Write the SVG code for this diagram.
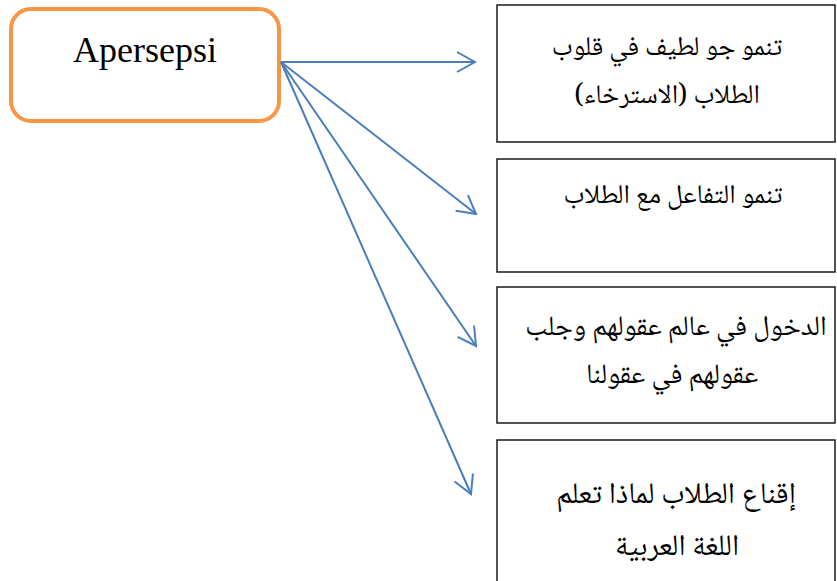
<svg xmlns="http://www.w3.org/2000/svg" width="837" height="581" viewBox="0 0 837 581">
<style>
.box{fill:#fff;stroke:#1a1a1a;stroke-width:1.5}
.ar{font-family:"Noto Naskh Arabic","Noto Sans Arabic","DejaVu Sans",serif;font-size:27px;fill:#000;text-anchor:middle;direction:rtl}
.mid{font-size:28px}
.big{font-size:30px}
.conn{fill:none;stroke:#4a7ebb;stroke-width:2}
</style>
<defs>
<marker id="arr" viewBox="-22 -12 24 24" markerWidth="24" markerHeight="24" refX="0" refY="0" orient="auto" markerUnits="userSpaceOnUse">
<path d="M-18,-10 L0,0 L-18,10" fill="none" stroke="#4a7ebb" stroke-width="2"/>
</marker>
</defs>
<rect width="837" height="581" fill="#fff"/>
<g id="apersepsi">
<rect x="11" y="9" width="268" height="112" rx="20" ry="20" fill="#fff" stroke="#f79646" stroke-width="4"/>
<text x="145" y="62" font-family="Liberation Serif,serif" font-size="36" text-anchor="middle" fill="#000">Apersepsi</text>
</g>
<g id="box1">
<rect class="box" x="497" y="5" width="338" height="137"/>
<text class="ar" x="667" y="55">تنمو جو لطيف في قلوب</text>
<text class="ar" x="667" y="103">الطلاب (الاسترخاء)</text>
</g>
<g id="box2">
<rect class="box" x="497" y="159" width="338" height="113"/>
<text class="ar" x="673" y="203">تنمو التفاعل مع الطلاب</text>
</g>
<g id="box3">
<rect class="box" x="497" y="287" width="338" height="136"/>
<text class="ar mid" x="676" y="335">الدخول في عالم عقولهم وجلب</text>
<text class="ar mid" x="672" y="383">عقولهم في عقولنا</text>
</g>
<g id="box4">
<rect class="box" x="497" y="440" width="338" height="150"/>
<text class="ar big" x="676" y="503">إقناع الطلاب لماذا تعلم</text>
<text class="ar big" x="677" y="555">اللغة العربية</text>
</g>
<g id="connectors">
<line class="conn" x1="281" y1="62" x2="475" y2="62" marker-end="url(#arr)"/>
<line class="conn" x1="281" y1="62" x2="476" y2="214" marker-end="url(#arr)"/>
<line class="conn" x1="281" y1="62" x2="476" y2="346" marker-end="url(#arr)"/>
<line class="conn" x1="281" y1="62" x2="471" y2="494" marker-end="url(#arr)"/>
</g>
</svg>
